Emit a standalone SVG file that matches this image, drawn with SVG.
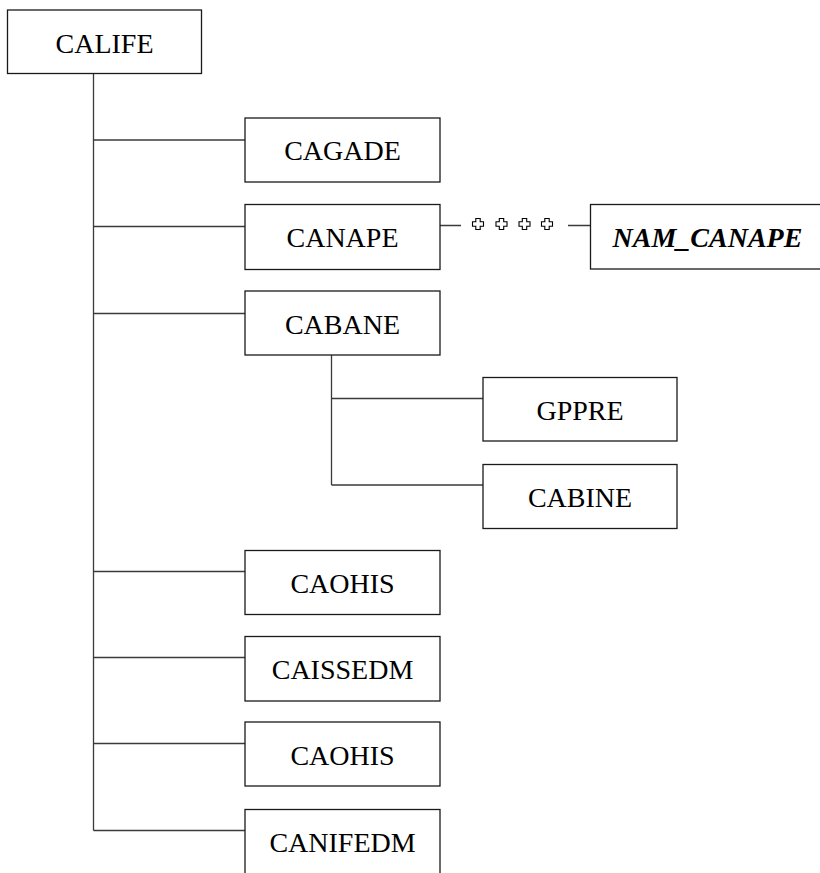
<svg xmlns="http://www.w3.org/2000/svg" width="820" height="873" viewBox="0 0 820 873">
  <style>
    .box { fill: #ffffff; stroke: #1a1a1a; stroke-width: 1.3; }
    .lbl { font-family: "Liberation Serif", "Times New Roman", serif; font-size: 28px; fill: #000; text-anchor: middle; }
    .ref { font-weight: bold; font-style: italic; }
    .wire { fill: none; stroke: #3a3a3a; stroke-width: 1.3; }
    .cross { fill: #ffffff; stroke: #000; stroke-width: 1.1; }
  </style>
  <defs>
    <path id="crossMark" class="cross" d="M-2.2,-5.5 H2.2 V-2.2 H5.5 V2.2 H2.2 V5.5 H-2.2 V2.2 H-5.5 V-2.2 H-2.2 Z"/>
  </defs>
  <rect width="820" height="873" fill="#ffffff"/>

  <!-- tree connectors -->
  <g id="connectors">
    <path class="wire" d="M93.5,73 V830.5"/>
    <path class="wire" d="M93.5,140 H245"/>
    <path class="wire" d="M93.5,226.5 H245"/>
    <path class="wire" d="M93.5,313.5 H245"/>
    <path class="wire" d="M93.5,571.5 H245"/>
    <path class="wire" d="M93.5,657.5 H245"/>
    <path class="wire" d="M93.5,743.5 H245"/>
    <path class="wire" d="M93.5,830.5 H245"/>
    <path class="wire" d="M331.5,355 V485 M331.5,398.5 H483 M331.5,485 H483"/>
    <!-- CANAPE to NAM_CANAPE link with cardinality marks -->
    <path class="wire" d="M440,225.5 H461 M568,225.5 H590.5"/>
    <g id="link-marks">
      <use href="#crossMark" x="478" y="224"/>
      <use href="#crossMark" x="501.5" y="224"/>
      <use href="#crossMark" x="524.5" y="224"/>
      <use href="#crossMark" x="547" y="224"/>
    </g>
  </g>

  <g id="node-calife">
    <rect class="box" x="7.5" y="10" width="194" height="63.5"/>
    <text class="lbl" x="104.5" y="53">CALIFE</text>
  </g>
  <g id="node-cagade">
    <rect class="box" x="245" y="118" width="195" height="64"/>
    <text class="lbl" x="342.5" y="160">CAGADE</text>
  </g>
  <g id="node-canape">
    <rect class="box" x="245" y="204.5" width="195" height="65"/>
    <text class="lbl" x="342.5" y="247">CANAPE</text>
  </g>
  <g id="node-nam-canape">
    <rect class="box" x="590.5" y="204.5" width="240" height="64.5"/>
    <text class="lbl ref" x="707.5" y="247">NAM_CANAPE</text>
  </g>
  <g id="node-cabane">
    <rect class="box" x="245" y="291" width="195" height="64"/>
    <text class="lbl" x="342.5" y="333.5">CABANE</text>
  </g>
  <g id="node-gppre">
    <rect class="box" x="483" y="377.5" width="194" height="63.5"/>
    <text class="lbl" x="580" y="420">GPPRE</text>
  </g>
  <g id="node-cabine">
    <rect class="box" x="483" y="464.5" width="194" height="64"/>
    <text class="lbl" x="580" y="507">CABINE</text>
  </g>
  <g id="node-caohis-1">
    <rect class="box" x="245" y="550.5" width="195" height="64"/>
    <text class="lbl" x="342.5" y="593">CAOHIS</text>
  </g>
  <g id="node-caissedm">
    <rect class="box" x="245" y="636.5" width="195" height="64.5"/>
    <text class="lbl" x="342.5" y="679">CAISSEDM</text>
  </g>
  <g id="node-caohis-2">
    <rect class="box" x="245" y="722" width="195" height="64"/>
    <text class="lbl" x="342.5" y="764.5">CAOHIS</text>
  </g>
  <g id="node-canifedm">
    <rect class="box" x="245" y="809.5" width="195" height="70"/>
    <text class="lbl" x="342.5" y="852">CANIFEDM</text>
  </g>
</svg>
